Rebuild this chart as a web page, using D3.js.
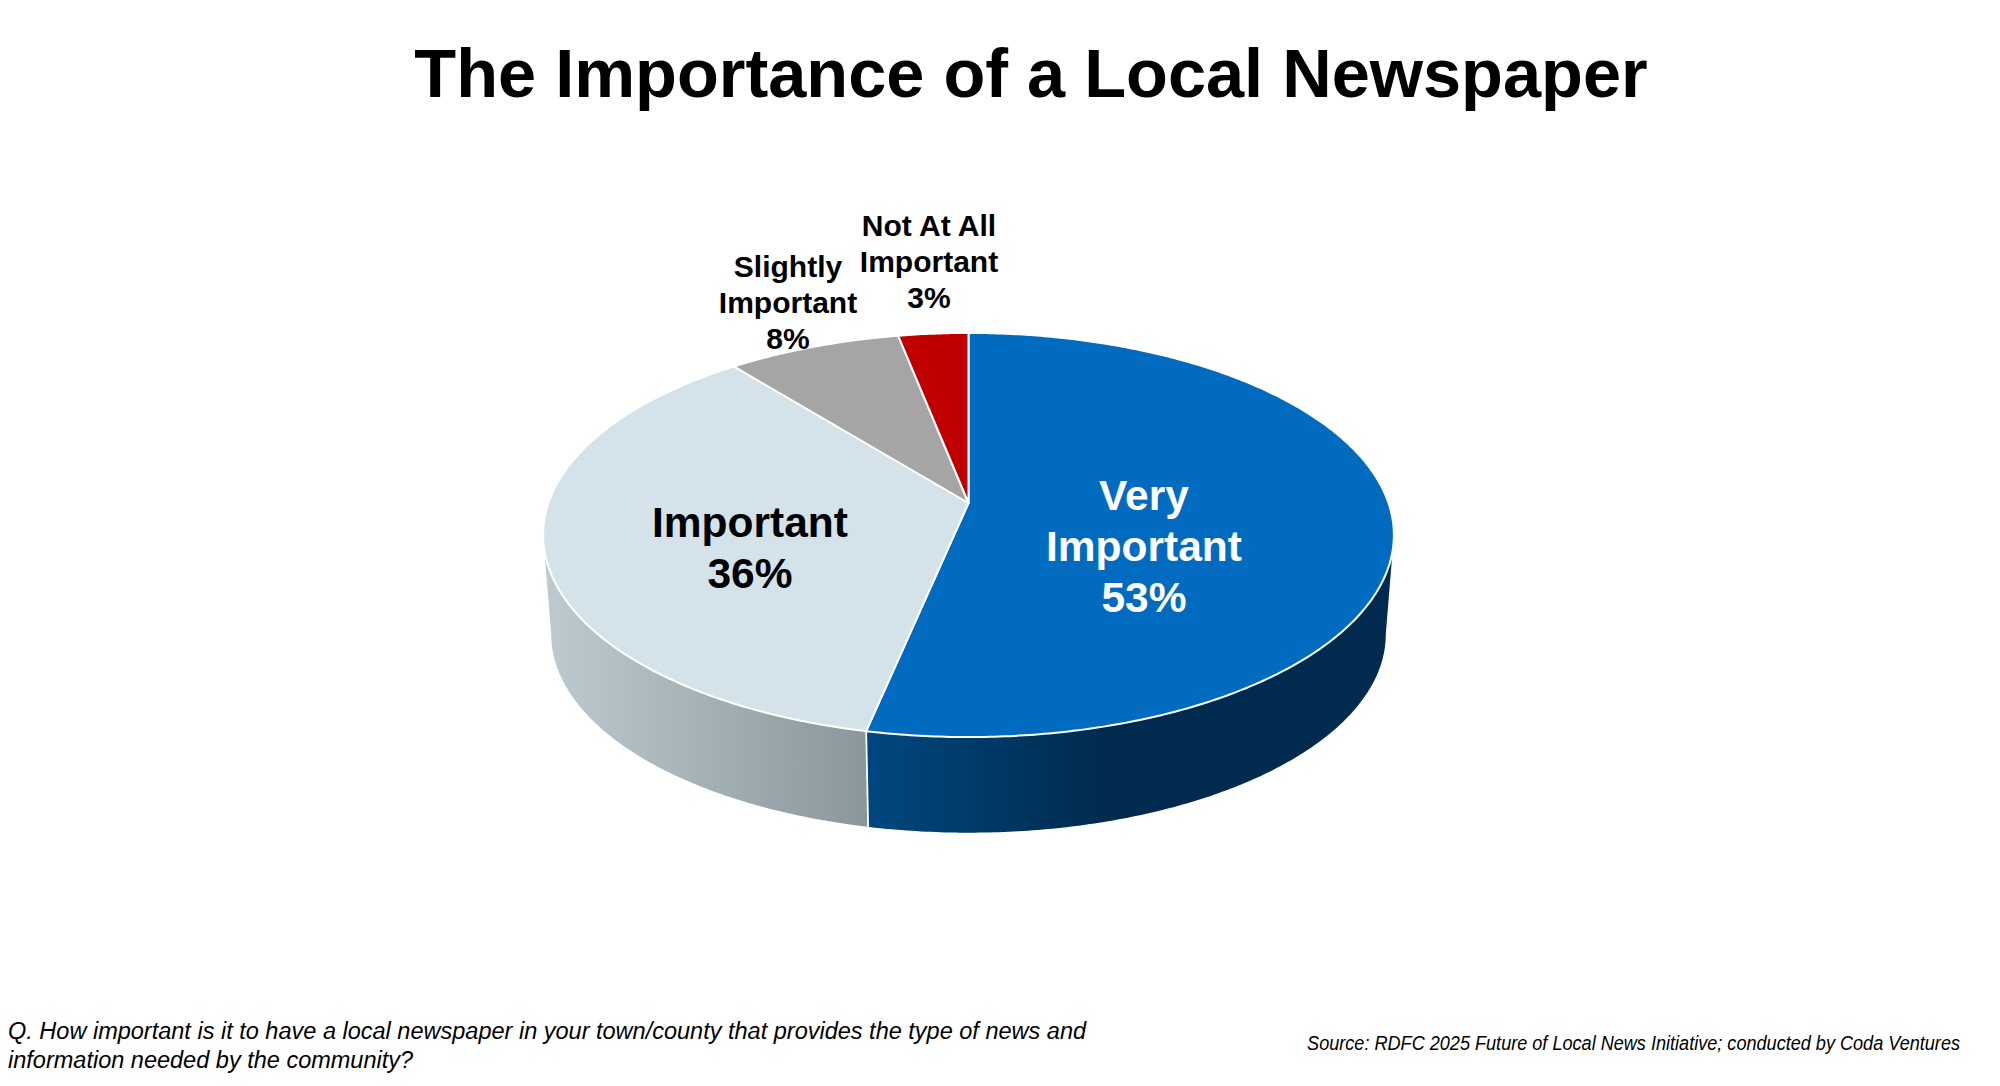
<!DOCTYPE html>
<html>
<head>
<meta charset="utf-8">
<script src="https://cdn.jsdelivr.net/npm/d3@7"></script>
<style>
  html, body { margin: 0; background: #fff; }
  svg { display: block; }
  text { font-family: "Liberation Sans", Arial, sans-serif; }
</style>
</head>
<body>
<div id="container"></div>
<script>
// data, shares (they round to the printed labels)
const categories = ["Very Important", "Important", "Slightly Important", "Not At All Important"];
const values = [53.3, 35.9, 7.7, 3.1];
const labelNames = [["Very", "Important"], ["Important"], ["Slightly", "Important"], ["Not At All", "Important"]];
const titleText = "The Importance of a Local Newspaper";
const questionLines = ["Q. How important is it to have a local newspaper in your town/county that provides the type of news and",
                       "information needed by the community?"];
const sourceText = "Source: RDFC 2025 Future of Local News Initiative; conducted by Coda Ventures";

// colours
const faceColors = ["#016cbf", "#d4e2ea", "#a5a5a5", "#c00000"];
const wallStops = [
  [[0, "#00477f"], [0.45, "#002b4e"], [1, "#002b4e"]],
  [[0, "#bccad0"], [1, "#8a969b"]]
];
const labelColors = ["#fff", "#000", "#000", "#000"];

const width = 2000, height = 1086;

// perspective disc: apex is where the slices meet, k squeezes the far side
const k = 0.1584;
const top3d = {cx: 968.5, apexY: 503, rx: 420, ry: 197};
const bottom3d = {cx: 968.5, apexY: 603, rx: 412, ry: 193.3};

// the wall is only visible between these two angles (widest points of the disc)
const wallFrom = Math.acos(-k), wallTo = 2 * Math.PI - wallFrom;

function project(disc, angle) {
  const u = Math.sin(angle), v = -Math.cos(angle), w = 1 - k * v;
  return [disc.cx + disc.rx * u / w, disc.apexY + disc.ry * v / w];
}

function arcPoints(disc, a0, a1) {
  const n = Math.max(2, Math.ceil((a1 - a0) / 0.01));
  return d3.range(n + 1).map(i => project(disc, a0 + (a1 - a0) * i / n));
}

const line = d3.line();
const pie = d3.pie().sort(null).value(d => d.value);
const slices = pie(categories.map((c, i) => ({name: c, value: values[i], i: i})));

const colorScale = d3.scaleOrdinal().domain(categories).range(faceColors);

const svg = d3.select("#container").append("svg")
  .attr("width", width)
  .attr("height", height);

// visible part of each slice's side
const walls = slices
  .map(d => ({i: d.data.i, a0: Math.max(d.startAngle, wallFrom), a1: Math.min(d.endAngle, wallTo)}))
  .filter(d => d.a1 > d.a0);

const wallX = d => d3.extent(arcPoints(bottom3d, d.a0, d.a1), p => p[0]);

const grads = svg.append("defs").selectAll("linearGradient")
  .data(walls)
  .enter()
  .append("linearGradient")
    .attr("id", d => "wall" + d.i)
    .attr("gradientUnits", "userSpaceOnUse")
    .attr("x1", d => wallX(d)[0])
    .attr("x2", d => wallX(d)[1])
    .attr("y1", 0).attr("y2", 0);

grads.selectAll("stop")
  .data(d => wallStops[d.i])
  .enter()
  .append("stop")
    .attr("offset", d => d[0])
    .attr("stop-color", d => d[1]);

svg.append("g").selectAll("path")
  .data(walls)
  .enter()
  .append("path")
    .attr("d", d => line(arcPoints(top3d, d.a0, d.a1)
                  .concat(arcPoints(bottom3d, d.a0, d.a1).reverse())) + "Z")
    .attr("fill", d => `url(#wall${d.i})`);

// white seam where two slices meet on the visible side
svg.append("g").selectAll("line")
  .data(walls.slice(0, -1))
  .enter()
  .append("line")
    .attr("x1", d => project(top3d, d.a1)[0])
    .attr("y1", d => project(top3d, d.a1)[1])
    .attr("x2", d => project(bottom3d, d.a1)[0])
    .attr("y2", d => project(bottom3d, d.a1)[1])
    .attr("stroke", "#fff")
    .attr("stroke-width", 1.8);

// top faces
svg.append("g").selectAll("path")
  .data(slices)
  .enter()
  .append("path")
    .attr("d", d => line([[top3d.cx, top3d.apexY]].concat(arcPoints(top3d, d.startAngle, d.endAngle))) + "Z")
    .attr("fill", d => colorScale(d.data.name))
    .attr("stroke", "#fff")
    .attr("stroke-width", 2)
    .attr("stroke-linejoin", "round");

// labels
const labelPlace = [
  {x: 1144, y: 510, size: 42.5, step: 51},
  {x: 750, y: 537, size: 42.5, step: 51},
  {x: 788, y: 277, size: 30, step: 36},
  {x: 929, y: 236, size: 30, step: 36}
];

const labels = svg.append("g").selectAll("text")
  .data(slices)
  .enter()
  .append("text")
    .attr("text-anchor", "middle")
    .attr("font-weight", "bold")
    .attr("font-size", d => labelPlace[d.data.i].size)
    .attr("fill", d => labelColors[d.data.i]);

labels.selectAll("tspan")
  .data(d => labelNames[d.data.i].concat(Math.round(d.data.value) + "%")
    .map((t, j) => ({t: t, j: j, place: labelPlace[d.data.i]})))
  .enter()
  .append("tspan")
    .attr("x", d => d.place.x)
    .attr("y", d => d.place.y + d.j * d.place.step)
    .text(d => d.t);

// title
svg.append("text")
  .attr("x", 1031)
  .attr("y", 97)
  .attr("text-anchor", "middle")
  .attr("font-weight", "bold")
  .attr("font-size", 68.5)
  .text(titleText);

// footnotes are slightly condensed in the original
svg.append("g").selectAll("text")
  .data(questionLines)
  .enter()
  .append("text")
    .attr("transform", (d, i) => `translate(8,${1039 + i * 29}) scale(0.98,1)`)
    .attr("font-style", "italic")
    .attr("font-size", 24)
    .text(d => d);

svg.append("text")
  .attr("transform", "translate(1960,1050) scale(0.905,1)")
  .attr("text-anchor", "end")
  .attr("font-style", "italic")
  .attr("font-size", 20)
  .text(sourceText);
</script>
</body>
</html>
